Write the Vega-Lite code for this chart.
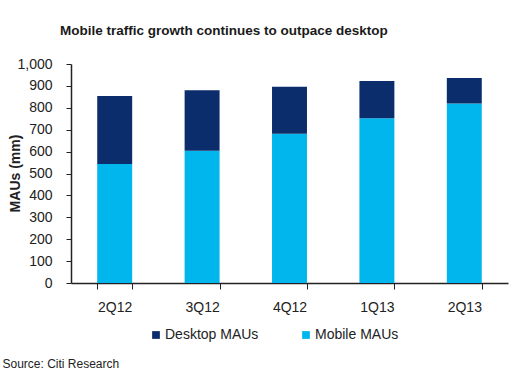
{
  "$schema": "https://vega.github.io/schema/vega-lite/v6.json",
  "width": 437,
  "height": 219,
  "autosize": {"type": "none"},
  "padding": {"left": 71, "top": 64, "right": 23, "bottom": 90},
  "background": "white",
  "config": {
    "font": "Liberation Sans",
    "view": {"stroke": null},
    "axis": {"grid": false, "domainColor": "#222", "tickColor": "#222", "labelColor": "#222", "labelFont": "Liberation Sans", "labelFontSize": 14}
  },
  "title": {
    "text": "Mobile traffic growth continues to outpace desktop",
    "anchor": "start",
    "frame": "group",
    "dx": -11,
    "offset": 20,
    "fontSize": 13.5,
    "fontWeight": "bold",
    "font": "Liberation Sans",
    "color": "#1a1a1a"
  },
  "data": {
    "values": [
      {"quarter": "2Q12", "series": "Mobile MAUs", "value": 543},
      {"quarter": "2Q12", "series": "Desktop MAUs", "value": 311},
      {"quarter": "3Q12", "series": "Mobile MAUs", "value": 604},
      {"quarter": "3Q12", "series": "Desktop MAUs", "value": 276},
      {"quarter": "4Q12", "series": "Mobile MAUs", "value": 682},
      {"quarter": "4Q12", "series": "Desktop MAUs", "value": 214},
      {"quarter": "1Q13", "series": "Mobile MAUs", "value": 752},
      {"quarter": "1Q13", "series": "Desktop MAUs", "value": 170},
      {"quarter": "2Q13", "series": "Mobile MAUs", "value": 820},
      {"quarter": "2Q13", "series": "Desktop MAUs", "value": 116}
    ]
  },
  "mark": {"type": "bar"},
  "encoding": {
    "x": {
      "field": "quarter",
      "type": "nominal",
      "sort": ["2Q12", "3Q12", "4Q12", "1Q13", "2Q13"],
      "scale": {"paddingInner": 0.6, "paddingOuter": 0.3},
      "axis": {
        "title": "Source: Citi Research",
        "titleAnchor": "start",
        "titleX": -69,
        "titleY": 84,
        "titleBaseline": "alphabetic",
        "titleFontSize": 12,
        "titleFontWeight": "normal",
        "titleColor": "#222",
        "labelAngle": 0,
        "tickBand": "extent",
        "tickSize": 6,
        "labelPadding": 11,
        "domainWidth": 1.5
      }
    },
    "y": {
      "field": "value",
      "type": "quantitative",
      "stack": "zero",
      "scale": {"domain": [0, 1000]},
      "axis": {
        "title": "MAUs (mm)",
        "titleFontSize": 14,
        "titleFontWeight": "bold",
        "titleColor": "#222",
        "titleX": -56,
        "titleY": 109,
        "titleAlign": "center",
        "titleBaseline": "middle",
        "values": [0, 100, 200, 300, 400, 500, 600, 700, 800, 900, 1000],
        "format": ",d",
        "tickSize": 5,
        "labelPadding": 14,
        "domainWidth": 1.5
      }
    },
    "color": {
      "field": "series",
      "type": "nominal",
      "scale": {"domain": ["Desktop MAUs", "Mobile MAUs"], "range": ["#0C2D6B", "#00B6EC"]},
      "legend": {
        "title": null,
        "orient": "none",
        "legendX": 78,
        "legendY": 264,
        "direction": "horizontal",
        "symbolType": "square",
        "symbolSize": 60,
        "symbolStrokeWidth": 0,
        "labelFontSize": 14,
        "labelFont": "Liberation Sans",
        "labelColor": "#222",
        "labelOffset": 2,
        "columnPadding": 40
      }
    },
    "order": {"field": "series", "sort": "descending"}
  }
}
